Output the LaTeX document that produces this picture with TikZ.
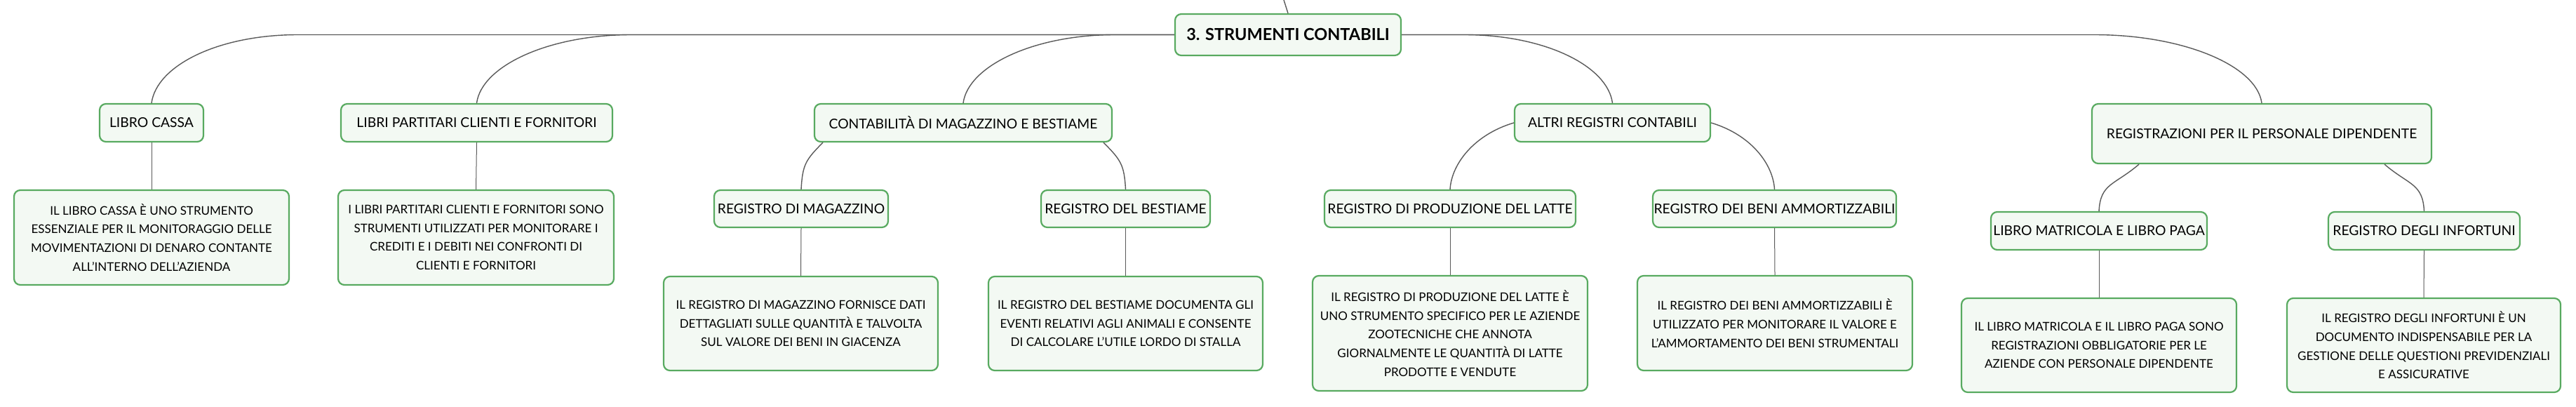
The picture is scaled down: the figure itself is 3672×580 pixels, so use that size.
\documentclass[tikz,border=0pt]{standalone}
\usepackage{fontspec}
\setmainfont{Lato}
\usepackage{xcolor}
\usepackage{tikz}
\definecolor{mapgreen}{RGB}{88,170,96}
\definecolor{mapfill}{RGB}{243,249,243}
\definecolor{linkgray}{RGB}{90,90,90}

\begin{document}
\begin{tikzpicture}[x=1pt,y=-1pt,
  box/.style={draw=mapgreen,fill=mapfill,line width=2.2pt,rounded corners=9pt,align=center,inner sep=0pt},
  topic/.style={box,minimum height=54,font=\fontsize{19.3}{24}\selectfont},
  leaf/.style={box,font=\fontsize{17}{26.7}\selectfont},
  link/.style={draw=linkgray,line width=1.4pt},
  stem/.style={draw=linkgray,line width=1pt}]
\useasboundingbox[fill=white] (0,0) rectangle (3672,580);

\node[box,minimum width=322,minimum height=59,font=\fontsize{23.5}{28}\selectfont\bfseries] (root) at (1836,49.5) {3. STRUMENTI CONTABILI};
\coordinate (top) at (1830,0);
\draw[link] (top) -- (root.north);

\node[topic,minimum width=148] (cassa) at (216,175) {LIBRO CASSA};
\node[topic,minimum width=387] (partitari) at (679.5,175) {LIBRI PARTITARI CLIENTI E FORNITORI};
\node[topic,minimum width=424] (contab) at (1373,175) {CONTABILITÀ DI MAGAZZINO E BESTIAME};
\node[topic,minimum width=279] (altri) at (2298.5,175) {ALTRI REGISTRI CONTABILI};
\node[topic,minimum width=484,minimum height=85] (personale) at (3224,190.5) {REGISTRAZIONI PER IL PERSONALE DIPENDENTE};

\node[topic,minimum width=248,minimum height=53] (magazzino) at (1142,297.5) {REGISTRO DI MAGAZZINO};
\node[topic,minimum width=241,minimum height=53] (bestiame) at (1604.5,297.5) {REGISTRO DEL BESTIAME};
\node[topic,minimum width=358,minimum height=53] (latte) at (2067,297.5) {REGISTRO DI PRODUZIONE DEL LATTE};
\node[topic,minimum width=347,minimum height=53] (ammort) at (2529.5,297.5) {REGISTRO DEI BENI AMMORTIZZABILI};
\node[topic,minimum width=308] (matricola) at (2992,329) {LIBRO MATRICOLA E LIBRO PAGA};
\node[topic,minimum width=273] (infortuni) at (3455.5,329) {REGISTRO DEGLI INFORTUNI};

\node[leaf,minimum width=392,minimum height=135] (cassaD) at (216,338.5) {IL LIBRO CASSA È UNO STRUMENTO\\ESSENZIALE PER IL MONITORAGGIO DELLE\\MOVIMENTAZIONI DI DENARO CONTANTE\\ALL’INTERNO DELL’AZIENDA};
\node[leaf,minimum width=393,minimum height=135] (partitariD) at (678.5,338.5) {I LIBRI PARTITARI CLIENTI E FORNITORI SONO\\STRUMENTI UTILIZZATI PER MONITORARE I\\CREDITI E I DEBITI NEI CONFRONTI DI\\CLIENTI E FORNITORI};
\node[leaf,minimum width=391,minimum height=134] (magazzinoD) at (1141.5,461) {IL REGISTRO DI MAGAZZINO FORNISCE DATI\\DETTAGLIATI SULLE QUANTITÀ E TALVOLTA\\SUL VALORE DEI BENI IN GIACENZA};
\node[leaf,minimum width=391,minimum height=134] (bestiameD) at (1604.5,461) {IL REGISTRO DEL BESTIAME DOCUMENTA GLI\\EVENTI RELATIVI AGLI ANIMALI E CONSENTE\\DI CALCOLARE L’UTILE LORDO DI STALLA};
\node[leaf,minimum width=392,minimum height=164] (latteD) at (2067,475) {IL REGISTRO DI PRODUZIONE DEL LATTE È\\UNO STRUMENTO SPECIFICO PER LE AZIENDE\\ZOOTECNICHE CHE ANNOTA\\GIORNALMENTE LE QUANTITÀ DI LATTE\\PRODOTTE E VENDUTE};
\node[leaf,minimum width=392,minimum height=135] (ammortD) at (2530,460.5) {IL REGISTRO DEI BENI AMMORTIZZABILI È\\UTILIZZATO PER MONITORARE IL VALORE E\\L’AMMORTAMENTO DEI BENI STRUMENTALI};
\node[leaf,minimum width=392,minimum height=134] (matricolaD) at (2992,492) {IL LIBRO MATRICOLA E IL LIBRO PAGA SONO\\REGISTRAZIONI OBBLIGATORIE PER LE\\AZIENDE CON PERSONALE DIPENDENTE};
\node[leaf,minimum width=390,minimum height=134] (infortuniD) at (3455,492) {IL REGISTRO DEGLI INFORTUNI È UN\\DOCUMENTO INDISPENSABILE PER LA\\GESTIONE DELLE QUESTIONI PREVIDENZIALI\\E ASSICURATIVE};

% branches from the root
\draw[link] (root.west) -- (425,49.5) .. controls +(-115,0) and +(7,-53) .. (cassa.north);
\draw[link] (root.west) -- (900,49.5) .. controls +(-118,0) and +(7,-53) .. (partitari.north);
\draw[link] (root.west) -- (1589,49.5) .. controls +(-115,0) and +(7,-53) .. (contab.north);
\draw[link] (root.east) -- (2087,49.5) .. controls +(115,0) and +(-7,-53) .. (altri.north);
\draw[link] (root.east) -- (2985,49.5) .. controls +(128,0) and +(-7,-53) .. (personale.north);

% second level
\draw[link] (contab.188) .. controls +(-25,25) and +(2,-35) .. (magazzino.north);
\draw[link] (contab.352) .. controls +(25,25) and +(-2,-35) .. (bestiame.north);
\draw[link] (altri.west) .. controls +(-57,17) and +(2,-36) .. (latte.north);
\draw[link] (altri.east) .. controls +(57,17) and +(-2,-36) .. (ammort.north);
\draw[link] (personale.194) .. controls +(-35,30) and +(2,-40) .. (matricola.north);
\draw[link] (personale.346) .. controls +(35,30) and +(-2,-40) .. (infortuni.north);

% descriptions
\foreach \a in {cassa,partitari,magazzino,bestiame,latte,ammort,matricola,infortuni}
  \draw[stem] (\a.south) -- (\a D.north);
\end{tikzpicture}
\end{document}
